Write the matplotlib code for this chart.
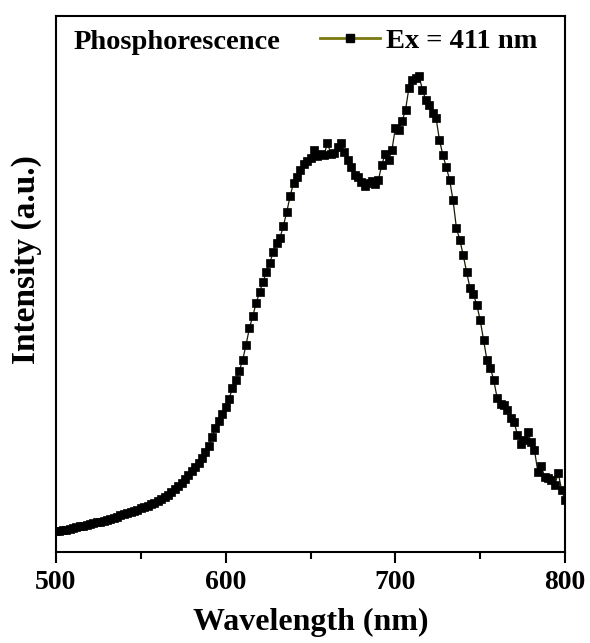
import numpy as np
import matplotlib
matplotlib.use("Agg")
import matplotlib.pyplot as plt
from matplotlib.lines import Line2D

# Wavelength grid (nm)
wavelength = list(range(500, 802, 2))

# Intensity (a.u.), one value per wavelength
intensity = [
    21, 21.5, 22, 22.5, 23.5, 24, 25, 26, 26.5, 27.5,            # 500-518
    28, 29, 30, 30.5, 31.5, 32.5, 33.5, 34.5, 35.5, 37,           # 520-538
    38, 39, 40, 41.5, 42.5, 44, 45, 46.5, 48, 49.5,               # 540-558
    51, 53, 55, 57, 60, 63, 66, 69, 73, 77,                       # 560-578
    81, 85, 89, 94, 100, 106, 115, 124, 131, 138,                 # 580-598
    145, 153, 164, 172, 181, 192, 207, 224, 236, 249,             # 600-618
    260, 270, 280, 289, 300, 309, 314, 326, 340, 356,             # 620-638
    369, 375, 382, 388, 391, 394, 402, 396, 398, 397,             # 640-658
    409, 398, 399, 405, 409, 400, 392, 385, 377, 375,             # 660-678
    370, 366, 369, 371, 368, 372, 387, 398, 392, 402,             # 680-698
    424, 422, 431, 442, 464, 472, 474, 476, 462, 452,             # 700-718
    447, 439, 434, 412, 397, 385, 372, 352, 324, 312,             # 720-738
    297, 280, 264, 258, 247, 232, 212, 192, 184, 172,             # 740-758
    154, 148, 147, 142, 134, 130, 117, 108, 112, 120,             # 760-778
    110, 102, 80, 86, 75, 74, 72, 67, 79, 62,                     # 780-798
    52,                                                           # 800
]

xticks = [500, 600, 700, 800]
xtick_labels = ["500", "600", "700", "800"]

plt.rcParams['font.family'] = ['Liberation Serif', 'DejaVu Serif']
plt.rcParams['font.weight'] = 'bold'

fig = plt.figure(figsize=(5.9, 6.43), dpi=100)
ax = fig.add_axes([56/590, 1 - 552/643, (565 - 56)/590, (552 - 16)/643])

ax.plot(wavelength, intensity, color='#1a1a00', linewidth=0.9,
        marker='s', markersize=6, markerfacecolor='black',
        markeredgecolor='black', markeredgewidth=0.5)

ax.set_xlim(500, 800)
ax.set_ylim(0, 536)
ax.set_xticks(xticks)
ax.set_xticklabels(xtick_labels, fontsize=20, fontweight='bold')
ax.set_xticks([550, 650, 750], minor=True)
ax.tick_params(axis='x', which='major', direction='out', length=8, width=1.5, pad=5)
ax.tick_params(axis='x', which='minor', direction='out', length=5, width=1.5)
ax.set_yticks([])
for s in ax.spines.values():
    s.set_linewidth(1.5)

ax.set_xlabel("Wavelength (nm)", fontsize=23, fontweight='bold', labelpad=9)
ax.set_ylabel("Intensity (a.u.)", fontsize=24, fontweight='bold')
ax.yaxis.set_label_coords(-0.028, 0.545)

ax.text(0.035, 0.9385, "Phosphorescence", transform=ax.transAxes,
        fontsize=20.5, fontweight='bold', va='baseline', ha='left')

handle = Line2D([], [], color='#7a7a10', linewidth=2, marker='s',
                markersize=6, markerfacecolor='black', markeredgecolor='black')
leg = ax.legend([handle], ["Ex = 411 nm"], loc='center right',
                bbox_to_anchor=(0.945, 0.954), frameon=False,
                fontsize=20.5, handlelength=2.1, handletextpad=0.2,
                borderaxespad=0.0, borderpad=0.0)
for t in leg.get_texts():
    t.set_fontweight('bold')

fig.savefig("out.png", dpi=100)
